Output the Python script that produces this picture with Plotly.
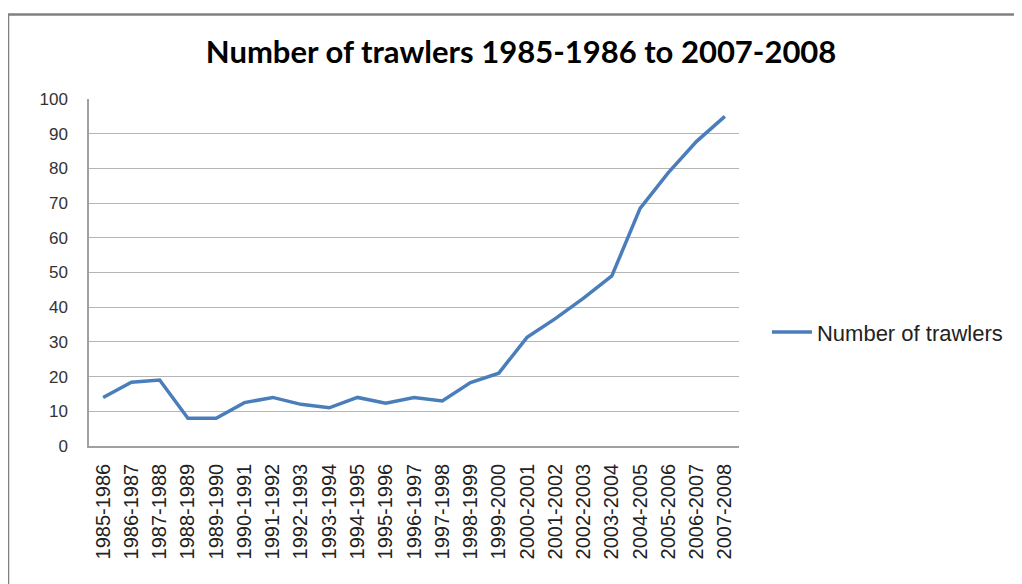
import plotly.graph_objects as go

seasons = ["1985-1986", "1986-1987", "1987-1988", "1988-1989", "1989-1990",
           "1990-1991", "1991-1992", "1992-1993", "1993-1994", "1994-1995",
           "1995-1996", "1996-1997", "1997-1998", "1998-1999", "1999-2000",
           "2000-2001", "2001-2002", "2002-2003", "2003-2004", "2004-2005",
           "2005-2006", "2006-2007", "2007-2008"]
trawlers = [14, 18.4, 19, 8, 8, 12.5, 14, 12, 11, 14, 12.3, 14, 13,
            18.3, 21, 31.3, 36.7, 42.6, 49, 68.5, 78.8, 87.8, 95]
y_ticks = list(range(0, 101, 10))
series_name = "Number of trawlers"
title_text = "Number of trawlers 1985-1986 to 2007-2008"

# page has an 8px body margin; figure sized so plot area lands where the reference has it
W, H = 1014, 576
L, T, R, B = 81, 91, 283, 138
pw, ph = W - L - R, H - T - B

fig = go.Figure()
fig.add_trace(go.Scatter(
    x=seasons, y=trawlers, mode="lines", name=series_name,
    line=dict(color="#4a7ebb", width=3.5),
))

border_x = (0 - L) / pw
border_y = (ph + T - 6.5) / ph

fig.update_layout(
    width=W, height=H,
    margin=dict(l=L, r=R, t=T, b=B),
    paper_bgcolor="white", plot_bgcolor="white",
    title=dict(text=title_text, x=0.506, xanchor="center", y=0.924, yanchor="middle",
               xref="container",
               font=dict(family="Lato", size=31, color="black", weight="bold")),
    showlegend=True,
    legend=dict(x=1.043, xanchor="left", y=0.328, yanchor="middle",
                font=dict(family="Liberation Sans", size=22, color="#222"),
                bgcolor="rgba(0,0,0,0)", itemwidth=40),
    xaxis=dict(type="category", tickangle=-90,
               tickfont=dict(family="Liberation Sans", size=20, color="#222"),
               showgrid=False, showline=True, linecolor="#a0a0a0", linewidth=1.5,
               ticks="", ticklabelstandoff=8, range=[-0.5, len(seasons) - 0.5]),
    yaxis=dict(range=[0, 100], tickvals=y_ticks, ticktext=[str(v) for v in y_ticks],
               tickfont=dict(family="Liberation Sans", size=17, color="#333"),
               showgrid=True, gridcolor="#b5b5b5", gridwidth=1.2,
               showline=True, linecolor="#a0a0a0", linewidth=1.5,
               ticks="", ticklabelstandoff=16, zeroline=False),
    shapes=[
        dict(type="line", xref="paper", yref="paper",
             x0=border_x, x1=border_x, y0=border_y, y1=-1,
             line=dict(color="#808080", width=2.5)),
        dict(type="line", xref="paper", yref="paper",
             x0=border_x, x1=2, y0=border_y, y1=border_y,
             line=dict(color="#808080", width=2.5)),
    ],
)

fig.write_html("out.html")
